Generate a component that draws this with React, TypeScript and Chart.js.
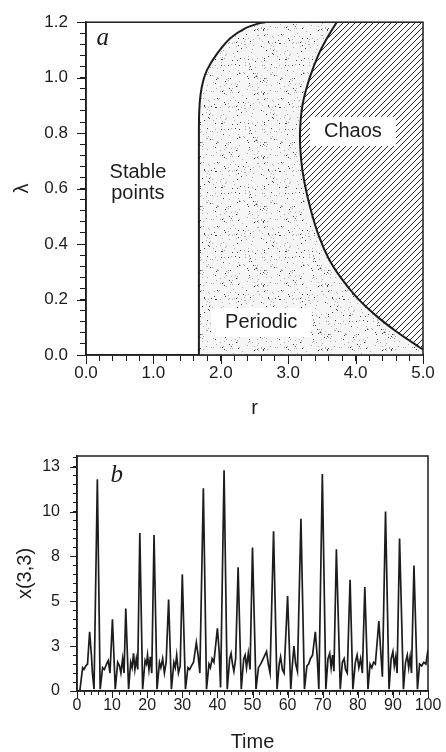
import React, { useEffect, useRef } from 'react';
import { Chart, registerables } from 'chart.js';

Chart.register(...registerables);

// ---------- Panel a: phase diagram (r, lambda) ----------
const R_MIN = 0;
const R_MAX = 5;
const L_MIN = 0;
const L_MAX = 1.2;

// stable points / periodic boundary
const STABLE_R = [1.675, 1.675, 1.675, 1.68, 1.70, 1.74, 1.80, 1.94, 2.14, 2.36, 2.58, 2.66];
const STABLE_L = [0.0, 0.45, 0.80, 0.88, 0.94, 0.99, 1.03, 1.085, 1.142, 1.178, 1.197, 1.2];

// periodic / chaos boundary
const CHAOS_R = [3.72, 3.575, 3.45, 3.32, 3.215, 3.175, 3.194, 3.242, 3.331, 3.45, 3.598, 3.783, 4.021, 4.303, 4.614, 4.941, 5.0];
const CHAOS_L = [1.2, 1.142, 1.083, 1.0, 0.905, 0.80, 0.70, 0.621, 0.527, 0.432, 0.349, 0.278, 0.207, 0.142, 0.083, 0.029, 0.02];

const R_MAJOR = [0, 1, 2, 3, 4, 5];
const R_LABELS = ['0.0', '1.0', '2.0', '3.0', '4.0', '5.0'];
const L_MAJOR = [0, 0.2, 0.4, 0.6, 0.8, 1.0, 1.2];
const L_LABELS = ['0.0', '0.2', '0.4', '0.6', '0.8', '1.0', '1.2'];
const R_MINOR_STEP = 0.2;
const L_MINOR_STEP = 0.04;

// ---------- Panel b: time series x(3,3) ----------
const T_MIN = 0;
const T_MAX = 100;
const X_MIN = 0;
const X_MAX = 13.1;

const TIME = [
  0.8, 1.6, 2.0, 2.5, 3.0, 3.6, 4.1, 4.4, 4.85,
  5.8, 6.6, 7.3, 7.8, 8.4, 8.9, 9.4,
  10.1, 10.9, 11.6, 12.1, 12.5, 13.0, 13.4,
  13.9, 14.7, 15.3, 15.7, 16.1, 16.5, 16.9, 17.3,
  17.9, 18.7, 19.4, 19.8, 20.1, 20.5, 20.9, 21.3,
  21.95, 22.8, 23.5, 23.9, 24.4, 24.9, 25.4,
  26.1, 26.9, 27.6, 28.0, 28.4, 28.9, 29.4,
  30.0, 30.9, 31.6, 32.1, 32.6, 33.2, 34.0, 34.5, 35.0,
  36.0, 36.9, 37.6, 38.0, 38.5, 39.0, 40.0, 40.5, 40.9,
  41.9, 42.8, 43.5, 43.9, 44.3, 44.7, 45.2,
  45.9, 46.8, 47.5, 47.9, 48.3, 48.8, 49.3,
  50.0, 51.0, 51.7, 52.3, 52.8, 53.3, 54.0, 54.5, 55.0,
  56.0, 57.0, 57.6, 58.0, 58.5, 59.0,
  60.0, 60.9, 61.3, 61.8, 62.3, 62.8,
  63.8, 64.8, 65.5, 66.0, 66.5, 67.1, 67.9, 68.4, 68.9,
  69.9, 70.9, 71.5, 72.0, 72.4, 72.8, 73.2,
  73.9, 75.0, 75.6, 76.1, 76.5, 77.0,
  77.8, 78.6, 79.3, 79.8, 80.3, 80.8, 81.3,
  82.0, 82.9, 83.5, 84.0, 84.5, 85.0, 86.0, 86.5, 87.0,
  87.9, 88.9, 89.5, 90.0, 90.4, 90.8, 91.2,
  91.9, 93.0, 93.6, 94.1, 94.5, 94.9, 95.3,
  96.0, 97.0, 97.6, 98.2, 98.8, 99.4, 100.0,
];

const X33 = [
  0.0, 1.3, 1.2, 1.4, 1.5, 3.3, 2.0, 1.0, 0.1,
  11.8, 0.1, 1.3, 1.2, 1.5, 1.7, 1.0,
  4.0, 0.1, 1.6, 1.4, 1.0, 1.8, 1.0,
  4.6, 0.1, 1.6, 1.3, 2.1, 1.2, 1.8, 1.2,
  8.8, 0.1, 1.7, 1.5, 2.0, 1.2, 1.9, 1.0,
  8.7, 0.1, 1.6, 1.3, 1.8, 1.0, 1.6,
  5.1, 0.1, 1.6, 1.3, 2.0, 1.0, 1.4,
  6.5, 0.1, 1.3, 1.2, 1.4, 1.6, 2.7, 2.0, 1.0,
  11.3, 0.1, 1.5, 1.3, 1.8, 1.6, 3.5, 2.2, 0.2,
  12.3, 0.1, 1.8, 2.1, 1.5, 1.1, 1.8,
  6.9, 0.1, 1.8, 2.0, 1.3, 2.1, 1.2,
  8.0, 0.1, 1.3, 1.5, 1.7, 1.9, 2.2, 1.5, 1.0,
  8.9, 0.1, 1.5, 1.9, 1.2, 1.0,
  5.3, 0.1, 1.3, 2.5, 1.5, 1.1,
  9.6, 0.1, 1.4, 1.5, 1.8, 2.0, 3.3, 2.0, 0.1,
  12.1, 0.1, 1.8, 2.1, 1.3, 2.0, 1.1,
  7.9, 0.1, 1.6, 1.8, 1.2, 1.0,
  6.2, 0.1, 1.6, 2.0, 1.3, 1.8, 1.0,
  5.8, 0.1, 1.5, 1.3, 1.6, 1.5, 3.9, 2.3, 0.8,
  10.0, 0.1, 1.8, 2.2, 1.4, 1.9, 1.0,
  8.5, 0.1, 1.6, 2.0, 1.3, 1.9, 1.0,
  7.0, 0.1, 1.5, 1.4, 1.6, 1.5, 2.3,
];

const T_MAJOR = [0, 10, 20, 30, 40, 50, 60, 70, 80, 90, 100];
const T_LABELS = ['0', '10', '20', '30', '40', '50', '60', '70', '80', '90', '100'];
const X_MAJOR = [0, 2.5, 5, 7.5, 10, 12.5];
const X_LABELS = ['0', '3', '5', '8', '10', '13'];
const T_MINOR_STEP = 2;
const X_MINOR_STEP = 0.5;

// ---------- styling ----------
const INK = '#1c1c1c';
const SANS = '"Liberation Sans", Arial, Helvetica, sans-serif';
const SERIF = '"Liberation Serif", "Times New Roman", serif';

function steps(min: number, max: number, step: number): number[] {
  const out: number[] = [];
  const n = Math.round((max - min) / step);
  for (let i = 0; i <= n; i++) {
    const v = min + i * step;
    if (v <= max + 1e-9) out.push(Math.round(v * 1e6) / 1e6);
  }
  return out;
}

function labelFor(majors: number[], labels: string[], v: number): string {
  const i = majors.findIndex((m) => Math.abs(m - v) < 1e-6);
  return i >= 0 ? labels[i] : '';
}

function makeStipple(ctx: CanvasRenderingContext2D): CanvasPattern {
  const size = 64;
  const c = document.createElement('canvas');
  c.width = size;
  c.height = size;
  const g = c.getContext('2d')!;
  g.fillStyle = '#f5f5f5';
  g.fillRect(0, 0, size, size);
  let s = 987654321;
  const rnd = () => {
    s = (Math.imul(s, 1103515245) + 12345) >>> 0;
    return s / 4294967296;
  };
  for (let i = 0; i < 230; i++) {
    const x = Math.floor(rnd() * size);
    const y = Math.floor(rnd() * size);
    g.fillStyle = rnd() < 0.35 ? '#444444' : '#ababab';
    g.fillRect(x, y, 1, 1);
  }
  return ctx.createPattern(c, 'repeat')!;
}

function makeHatch(ctx: CanvasRenderingContext2D): CanvasPattern {
  const n = 6;
  const c = document.createElement('canvas');
  c.width = n;
  c.height = n;
  const g = c.getContext('2d')!;
  g.fillStyle = '#ffffff';
  g.fillRect(0, 0, n, n);
  g.strokeStyle = '#262626';
  g.lineWidth = 1;
  g.beginPath();
  g.moveTo(-1, n + 1);
  g.lineTo(n + 1, -1);
  g.moveTo(-1, 1);
  g.lineTo(1, -1);
  g.moveTo(n - 1, n + 1);
  g.lineTo(n + 1, n - 1);
  g.stroke();
  return ctx.createPattern(c, 'repeat')!;
}

type TextItem = { lines: string[]; x: number; y: number; box: boolean; font: string };

function makeDecor(id: string, xMajor: number[], yMajor: number[], majorLen: number, texts: TextItem[]) {
  return {
    id,
    afterDatasetsDraw(chart: any) {
      const { ctx } = chart;
      const xs = chart.scales.x;
      const ys = chart.scales.y;
      ctx.save();
      for (const t of texts) {
        ctx.font = t.font;
        const lh = 21;
        const px = xs.getPixelForValue(t.x);
        const py = ys.getPixelForValue(t.y);
        if (t.box) {
          const w = Math.max(...t.lines.map((l) => ctx.measureText(l).width)) + 28;
          const h = t.lines.length * lh + 8;
          ctx.fillStyle = '#ffffff';
          ctx.fillRect(px - w / 2, py - h / 2, w, h);
        }
        ctx.fillStyle = INK;
        ctx.textAlign = 'center';
        ctx.textBaseline = 'middle';
        t.lines.forEach((l, i) => {
          ctx.fillText(l, px, py + (i - (t.lines.length - 1) / 2) * lh);
        });
      }
      ctx.restore();
    },
    afterDraw(chart: any) {
      const { ctx, chartArea: a } = chart;
      const xs = chart.scales.x;
      const ys = chart.scales.y;
      ctx.save();
      ctx.strokeStyle = INK;
      ctx.lineWidth = 1;
      ctx.beginPath();
      for (const v of xMajor) {
        const p = Math.round(xs.getPixelForValue(v)) + 0.5;
        ctx.moveTo(p, a.bottom);
        ctx.lineTo(p, a.bottom + majorLen);
      }
      for (const v of yMajor) {
        const p = Math.round(ys.getPixelForValue(v)) + 0.5;
        ctx.moveTo(a.left, p);
        ctx.lineTo(a.left - majorLen, p);
      }
      ctx.stroke();
      ctx.lineWidth = 1.5;
      ctx.strokeRect(a.left, a.top, a.right - a.left, a.bottom - a.top);
      ctx.restore();
    },
  };
}

function axisBase(tickLen: number) {
  return {
    grid: { drawOnChartArea: false, drawTicks: true, tickLength: tickLen, tickColor: INK, tickWidth: 1 },
    border: { display: true, color: INK, width: 1.5 },
  };
}

export default function App() {
  const topRef = useRef<HTMLCanvasElement>(null);
  const botRef = useRef<HTMLCanvasElement>(null);

  useEffect(() => {
    const c1 = topRef.current!;
    const c2 = botRef.current!;
    const ctx1 = c1.getContext('2d')!;
    const stipple = makeStipple(ctx1);
    const hatch = makeHatch(ctx1);

    const stablePts = STABLE_R.map((r, i) => ({ x: r, y: STABLE_L[i] }));
    const chaosPts = CHAOS_R.map((r, i) => ({ x: r, y: CHAOS_L[i] }));
    const periodicPoly = [...stablePts, { x: R_MAX, y: L_MAX }, { x: R_MAX, y: L_MIN }];
    const chaosPoly = [...chaosPts, { x: R_MAX, y: L_MAX }];

    const rTicks = steps(R_MIN, R_MAX, R_MINOR_STEP);
    const lTicks = steps(L_MIN, L_MAX, L_MINOR_STEP);

    const chartA = new Chart(c1, {
      type: 'line',
      data: {
        datasets: [
          {
            data: periodicPoly,
            order: 4,
            fill: 'shape',
            backgroundColor: stipple,
            borderColor: 'rgba(0,0,0,0)',
            borderWidth: 0,
            pointRadius: 0,
            tension: 0,
          },
          {
            data: chaosPoly,
            order: 3,
            fill: 'shape',
            backgroundColor: hatch,
            borderColor: 'rgba(0,0,0,0)',
            borderWidth: 0,
            pointRadius: 0,
            tension: 0,
          },
          {
            data: stablePts,
            order: 2,
            fill: false,
            borderColor: INK,
            borderWidth: 2,
            pointRadius: 0,
            tension: 0.3,
          },
          {
            data: chaosPts,
            order: 1,
            fill: false,
            borderColor: INK,
            borderWidth: 2,
            pointRadius: 0,
            tension: 0.3,
          },
        ],
      } as any,
      options: {
        responsive: false,
        animation: false,
        devicePixelRatio: 1,
        events: [],
        layout: { padding: { top: 17, right: 23, left: 0, bottom: 0 } },
        plugins: { legend: { display: false }, tooltip: { enabled: false } },
        scales: {
          x: {
            type: 'linear',
            min: R_MIN,
            max: R_MAX,
            ...axisBase(6),
            afterBuildTicks: (s: any) => {
              s.ticks = rTicks.map((v) => ({ value: v }));
            },
            afterFit: (s: any) => {
              s.height = 75;
            },
            ticks: {
              autoSkip: false,
              maxRotation: 0,
              padding: 2,
              color: INK,
              font: { family: SANS, size: 17 },
              callback: (v: any) => labelFor(R_MAJOR, R_LABELS, Number(v)),
            },
            title: {
              display: true,
              text: 'r',
              color: INK,
              font: { family: SANS, size: 20 },
              padding: { top: 0, bottom: 10 },
            },
          },
          y: {
            type: 'linear',
            min: L_MIN,
            max: L_MAX,
            ...axisBase(6),
            afterBuildTicks: (s: any) => {
              s.ticks = lTicks.map((v) => ({ value: v }));
            },
            afterFit: (s: any) => {
              s.width = 86;
            },
            ticks: {
              autoSkip: false,
              padding: 12,
              color: INK,
              font: { family: SANS, size: 17 },
              callback: (v: any) => labelFor(L_MAJOR, L_LABELS, Number(v)),
            },
            title: {
              display: true,
              text: 'λ',
              color: INK,
              font: { family: SANS, size: 20 },
              padding: { top: 10, bottom: 0 },
            },
          },
        },
      } as any,
      plugins: [
        makeDecor('decorA', R_MAJOR, L_MAJOR, 9, [
          { lines: ['Stable', 'points'], x: 0.77, y: 0.62, box: false, font: `20px ${SANS}` },
          { lines: ['Chaos'], x: 3.96, y: 0.806, box: true, font: `20px ${SANS}` },
          { lines: ['Periodic'], x: 2.6, y: 0.117, box: true, font: `20px ${SANS}` },
          { lines: ['a'], x: 0.25, y: 1.14, box: false, font: `italic 25px ${SERIF}` },
        ]),
      ] as any,
    });

    const tTicks = steps(T_MIN, T_MAX, T_MINOR_STEP);
    const xTicks = steps(X_MIN, 13.0, X_MINOR_STEP);

    const chartB = new Chart(c2, {
      type: 'line',
      data: {
        datasets: [
          {
            data: TIME.map((t, i) => ({ x: t, y: X33[i] })),
            fill: false,
            borderColor: INK,
            borderWidth: 1.7,
            pointRadius: 0,
            tension: 0,
          },
        ],
      } as any,
      options: {
        responsive: false,
        animation: false,
        devicePixelRatio: 1,
        events: [],
        layout: { padding: { top: 26, right: 18, left: 0, bottom: 0 } },
        plugins: { legend: { display: false }, tooltip: { enabled: false } },
        scales: {
          x: {
            type: 'linear',
            min: T_MIN,
            max: T_MAX,
            ...axisBase(4),
            afterBuildTicks: (s: any) => {
              s.ticks = tTicks.map((v) => ({ value: v }));
            },
            afterFit: (s: any) => {
              s.height = 61;
            },
            ticks: {
              autoSkip: false,
              maxRotation: 0,
              padding: 1,
              color: INK,
              font: { family: SANS, size: 16 },
              callback: (v: any) => labelFor(T_MAJOR, T_LABELS, Number(v)),
            },
            title: {
              display: true,
              text: 'Time',
              color: INK,
              font: { family: SANS, size: 20, lineHeight: 1.0 },
              padding: { top: 0, bottom: 0 },
            },
          },
          y: {
            type: 'linear',
            min: X_MIN,
            max: X_MAX,
            ...axisBase(4),
            afterBuildTicks: (s: any) => {
              s.ticks = xTicks.map((v) => ({ value: v }));
            },
            afterFit: (s: any) => {
              s.width = 77;
            },
            ticks: {
              autoSkip: false,
              padding: 13,
              color: INK,
              font: { family: SANS, size: 16 },
              callback: (v: any) => labelFor(X_MAJOR, X_LABELS, Number(v)),
            },
            title: {
              display: true,
              text: 'x(3,3)',
              color: INK,
              font: { family: SANS, size: 20 },
              padding: { top: 13, bottom: 0 },
            },
          },
        },
      } as any,
      plugins: [
        makeDecor('decorB', T_MAJOR, X_MAJOR, 7, [
          { lines: ['b'], x: 11.3, y: 12.0, box: false, font: `italic 25px ${SERIF}` },
        ]),
      ] as any,
    });

    return () => {
      chartA.destroy();
      chartB.destroy();
    };
  }, []);

  return (
    <div style={{ position: 'absolute', left: 0, top: 0, width: 446, height: 752, background: '#ffffff' }}>
      <canvas ref={topRef} width={446} height={430} style={{ position: 'absolute', left: 0, top: 0 }} />
      <canvas ref={botRef} width={446} height={322} style={{ position: 'absolute', left: 0, top: 430 }} />
    </div>
  );
}
